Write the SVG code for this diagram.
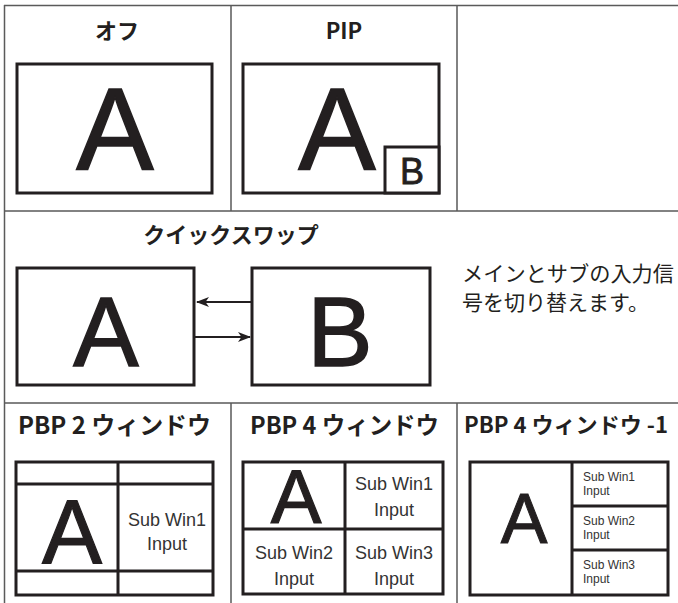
<svg xmlns="http://www.w3.org/2000/svg" width="678" height="603" viewBox="0 0 678 603">
<style>
.grid{stroke:#5a5a5a;stroke-width:1.5;fill:none}
.box{stroke:#231f20;stroke-width:3;fill:#fff}
.div{stroke:#231f20;stroke-width:3;fill:none}
.title{font-family:"Noto Sans CJK JP","Noto Sans",sans-serif;font-weight:bold;font-size:22px;fill:#231f20;text-anchor:middle}
.t2{font-size:24px}
.big{font-family:"Liberation Sans",Arial,sans-serif;fill:#231f20;stroke:#231f20;text-anchor:middle}
.sub{font-family:"Liberation Sans",Arial,sans-serif;font-size:18px;fill:#333;text-anchor:middle}
.sm{font-family:"Liberation Sans",Arial,sans-serif;font-size:12px;fill:#333}
.desc{font-family:"Noto Sans CJK JP",sans-serif;font-size:21px;fill:#231f20}
</style>
<defs>
<marker id="ah" viewBox="0 0 13 10" markerWidth="13" markerHeight="10" refX="12" refY="5" orient="auto" markerUnits="userSpaceOnUse">
<path d="M0,0 L13,5 L0,10 L3.5,5 z" fill="#231f20"/>
</marker>
</defs>
<g id="grid">
<path class="grid" d="M4.5,5 V603 M4,5.5 H678 M4,211 H678 M4,403 H678 M231,5 V211 M457,5 V211 M231,403 V603 M457,403 V603"/>
</g>
<g id="off">
<text class="title" x="117" y="39">オフ</text>
<rect class="box" x="17" y="64" width="195" height="129"/>
<text class="big" x="115" y="170" font-size="116" stroke-width="1.5">A</text>
</g>
<g id="pip">
<text class="title" x="344" y="39">PIP</text>
<rect class="box" x="243" y="64" width="196" height="129"/>
<text class="big" x="337" y="170" font-size="116" stroke-width="1.5">A</text>
<rect class="box" x="385" y="147" width="54" height="46"/>
<text class="big" x="412" y="184" font-size="36" stroke-width="0.8">B</text>
</g>
<g id="quickswap">
<text class="title" x="231" y="243">クイックスワップ</text>
<rect class="box" x="17" y="268" width="177" height="117"/>
<text class="big" x="106" y="366" font-size="98" stroke-width="1.5">A</text>
<rect class="box" x="252" y="268" width="178" height="117"/>
<text class="big" x="340" y="366" font-size="98" stroke-width="1.5">B</text>
<text class="desc" x="462" y="281" textLength="212" lengthAdjust="spacingAndGlyphs">メインとサブの入力信</text>
<text class="desc" x="462" y="310">号を切り替えます。</text>
</g>
<g id="connectors">
<line x1="252" y1="302" x2="197" y2="302" stroke="#231f20" stroke-width="2" marker-end="url(#ah)"/>
<line x1="194" y1="337" x2="250" y2="337" stroke="#231f20" stroke-width="2" marker-end="url(#ah)"/>
</g>
<g id="pbp2">
<text class="title t2" x="114.5" y="434" textLength="193" lengthAdjust="spacingAndGlyphs">PBP 2 ウィンドウ</text>
<rect class="box" x="16" y="462" width="197" height="133"/>
<path class="div" d="M118,462 V595 M16,484 H213 M16,571 H213"/>
<text class="big" x="72" y="563" font-size="90" stroke-width="1.2">A</text>
<text class="sub" x="167" y="526">Sub Win1</text>
<text class="sub" x="167" y="550">Input</text>
</g>
<g id="pbp4">
<text class="title t2" x="344.5" y="434" textLength="189" lengthAdjust="spacingAndGlyphs">PBP 4 ウィンドウ</text>
<rect class="box" x="243" y="462" width="200" height="132"/>
<path class="div" d="M345,462 V594 M243,529 H443"/>
<text class="big" x="296" y="523" font-size="76" stroke-width="1.2">A</text>
<text class="sub" x="394" y="490">Sub Win1</text>
<text class="sub" x="394" y="516">Input</text>
<text class="sub" x="294" y="559">Sub Win2</text>
<text class="sub" x="294" y="585">Input</text>
<text class="sub" x="394" y="559">Sub Win3</text>
<text class="sub" x="394" y="585">Input</text>
</g>
<g id="pbp4-1">
<text class="title" x="566" y="433" textLength="204" lengthAdjust="spacingAndGlyphs">PBP 4 ウィンドウ -1</text>
<rect class="box" x="470" y="462" width="198" height="133"/>
<path class="div" d="M572,462 V595 M572,506 H668 M572,550 H668"/>
<text class="big" x="524" y="543" font-size="70" stroke-width="1">A</text>
<text class="sm" x="583" y="481">Sub Win1</text>
<text class="sm" x="583" y="495">Input</text>
<text class="sm" x="583" y="525">Sub Win2</text>
<text class="sm" x="583" y="539">Input</text>
<text class="sm" x="583" y="569">Sub Win3</text>
<text class="sm" x="583" y="583">Input</text>
</g>
</svg>
